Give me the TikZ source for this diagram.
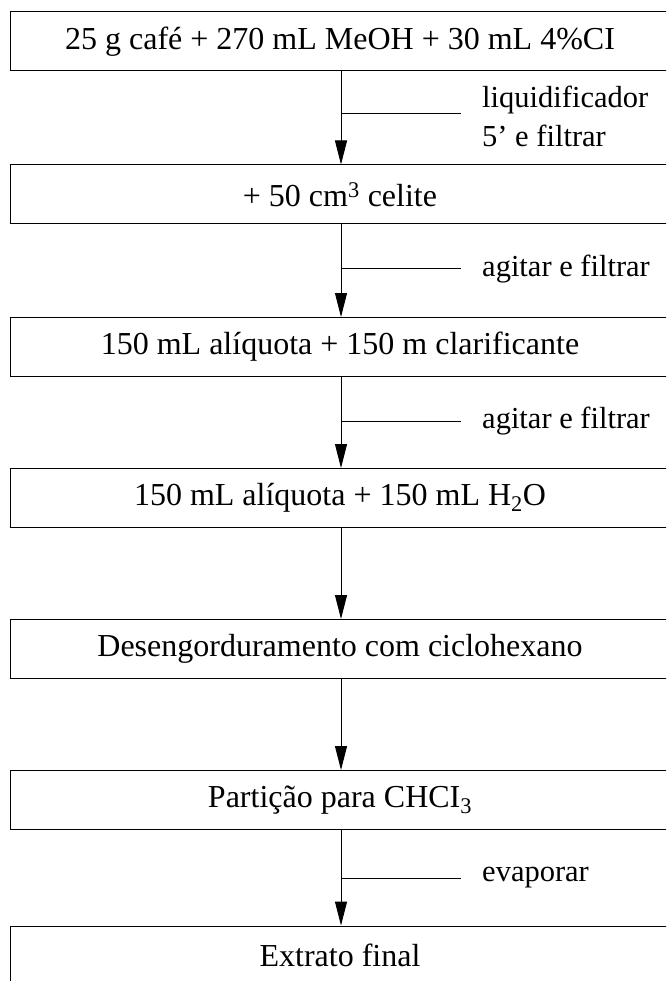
\documentclass[tikz,border=0pt]{standalone}
\usepackage{fontspec}
\setmainfont{Liberation Serif}
\usetikzlibrary{arrows.meta}
\tikzset{
  stepbox/.style={draw, line width=1pt, minimum width=660pt, minimum height=59pt, inner sep=0pt, font=\fontsize{32}{38}\selectfont, anchor=center},
  flow/.style={line width=1pt, -{Triangle[length=24pt,width=12pt]}},
  tick/.style={line width=1pt},
  lbl/.style={anchor=west, inner sep=0pt, font=\fontsize{30.5}{39}\selectfont, align=left}
}
\begin{document}
\begin{tikzpicture}[x=1pt,y=-1pt]
\useasboundingbox (0,0) rectangle (666,981);
\clip (0,0) rectangle (666,981);
\node[stepbox] (b1) at (340,41.5) {25 g café + 270 mL MeOH + 30 mL 4\%CI};
\node[stepbox] (b2) at (340,194.5) {+ 50 cm\textsuperscript{3} celite};
\node[stepbox] (b3) at (340,347) {150 mL alíquota + 150 m clarificante};
\node[stepbox] (b4) at (340,498) {150 mL alíquota + 150 mL H\textsubscript{2}O};
\node[stepbox] (b5) at (340,649) {Desengorduramento com ciclohexano};
\node[stepbox] (b6) at (340,800) {Partição para CHCI\textsubscript{3}};
\node[stepbox] (b7) at (340,955.5) {Extrato final};
\draw[flow] (b1.south -| 341,0) -- (b2.north -| 341,0);
\draw[flow] (b2.south -| 341,0) -- (b3.north -| 341,0);
\draw[flow] (b3.south -| 341,0) -- (b4.north -| 341,0);
\draw[flow] (b4.south -| 341,0) -- (b5.north -| 341,0);
\draw[flow] (b5.south -| 341,0) -- (b6.north -| 341,0);
\draw[flow] (b6.south -| 341,0) -- (b7.north -| 341,0);
\coordinate (t1a) at (341,114); \coordinate (t1b) at (461,114);
\coordinate (t2a) at (341,269); \coordinate (t2b) at (461,269);
\coordinate (t3a) at (341,421); \coordinate (t3b) at (461,421);
\coordinate (t4a) at (341,878); \coordinate (t4b) at (461,878);
\draw[tick] (t1a) -- (t1b);
\draw[tick] (t2a) -- (t2b);
\draw[tick] (t3a) -- (t3b);
\draw[tick] (t4a) -- (t4b);
\node[lbl] (l1) at (482,116) {liquidificador\\5' e filtrar};
\node[lbl] (l2) at (482,269) {agitar e filtrar};
\node[lbl] (l3) at (482,421) {agitar e filtrar};
\node[lbl] (l4) at (482,878) {evaporar};
\end{tikzpicture}
\end{document}
